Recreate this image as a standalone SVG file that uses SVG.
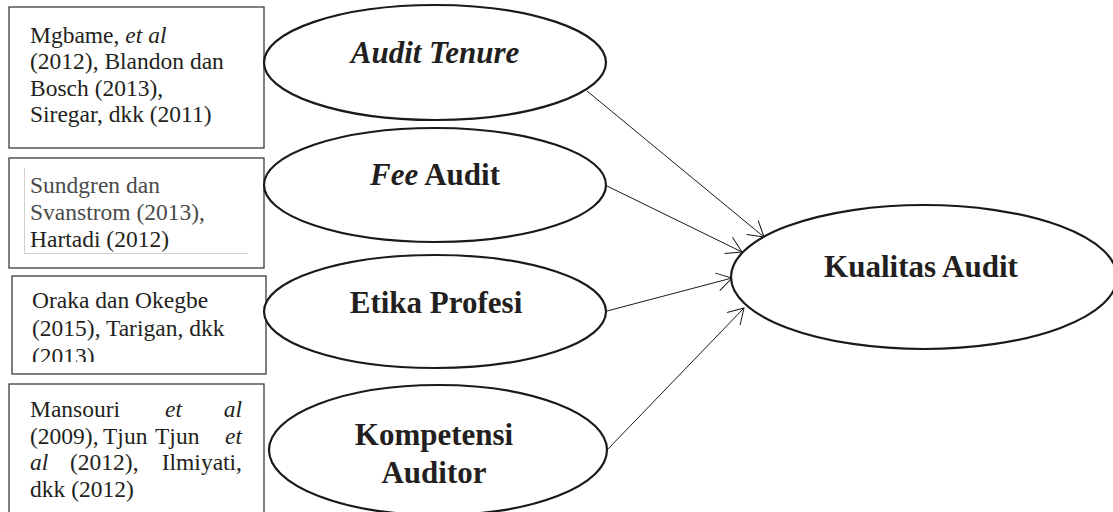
<svg xmlns="http://www.w3.org/2000/svg" width="1113" height="512" viewBox="0 0 1113 512">
<style>
.box{fill:#fff;stroke:#2b2b2b;stroke-width:1.2}
.ell{fill:#fff;stroke:#1a1a1a;stroke-width:2.2}
.ref{font-family:"Liberation Serif","Times New Roman",serif;font-size:23.5px;fill:#231f20}
.lbl{font-family:"Liberation Serif","Times New Roman",serif;font-size:31px;font-weight:bold;fill:#231f20;text-anchor:middle}
.it{font-style:italic}
.con{stroke:#1a1a1a;stroke-width:1;fill:none;marker-end:url(#arr)}
</style>
<defs>
<marker id="arr" markerUnits="userSpaceOnUse" markerWidth="20" markerHeight="20" viewBox="-17 -10 19 20" refX="0" refY="0" orient="auto">
<path d="M-15,-9 L0,0 L-15,9" fill="none" stroke="#1a1a1a" stroke-width="1"/>
</marker>
<clipPath id="clip3"><rect x="12" y="276" width="254" height="86"/></clipPath>
</defs>
<rect width="1113" height="512" fill="#fff"/>

<g id="ref1">
<rect class="box" x="9" y="7" width="255" height="141"/>
<text class="ref"><tspan x="30" y="43">Mgbame, <tspan class="it">et al</tspan></tspan><tspan x="30" y="69">(2012), Blandon dan</tspan><tspan x="30" y="95.5">Bosch (2013),</tspan><tspan x="30" y="121.5">Siregar, dkk (2011)</tspan></text>
</g>

<g id="ref2">
<rect class="box" x="9" y="158" width="255" height="110"/>
<path d="M24.5,168 V253.5 H248" fill="none" stroke="#d0d0d0" stroke-width="1"/>
<text class="ref"><tspan x="30" y="193" fill="#4a4a4a">Sundgren dan</tspan><tspan x="30" y="220" fill="#4a4a4a">Svanstrom (2013),</tspan><tspan x="30" y="247">Hartadi (2012)</tspan></text>
</g>

<g id="ref3">
<rect class="box" x="12" y="276" width="254" height="98"/>
<text class="ref" clip-path="url(#clip3)"><tspan x="32" y="308">Oraka dan Okegbe</tspan><tspan x="32" y="336">(2015), Tarigan, dkk</tspan><tspan x="32" y="364">(2013)</tspan></text>
</g>

<g id="ref4">
<rect class="box" x="9" y="384" width="255" height="140"/>
<text class="ref" x="30" y="417">Mansouri</text>
<text class="ref it" x="165" y="417">et</text>
<text class="ref it" x="242" y="417" text-anchor="end">al</text>
<text class="ref" x="30" y="443.5">(2009),</text>
<text class="ref" x="103" y="443.5">Tjun</text>
<text class="ref" x="155" y="443.5">Tjun</text>
<text class="ref it" x="242" y="443.5" text-anchor="end">et</text>
<text class="ref it" x="30" y="470">al</text>
<text class="ref" x="70" y="470">(2012),</text>
<text class="ref" x="242" y="470" text-anchor="end">Ilmiyati,</text>
<text class="ref" x="30" y="497">dkk (2012)</text>
</g>

<g id="connectors">
<line class="con" x1="587" y1="91" x2="764" y2="237"/>
<line class="con" x1="607" y1="186" x2="742" y2="252"/>
<line class="con" x1="607" y1="311" x2="732" y2="278"/>
<line class="con" x1="607" y1="450" x2="744" y2="308"/>
</g>

<g id="audit-tenure">
<ellipse class="ell" cx="435" cy="62.5" rx="171" ry="57.5"/>
<text class="lbl it" x="435" y="63">Audit Tenure</text>
</g>

<g id="fee-audit">
<ellipse class="ell" cx="435" cy="185" rx="171" ry="57"/>
<text class="lbl" x="435" y="185"><tspan class="it">Fee</tspan> Audit</text>
</g>

<g id="etika-profesi">
<ellipse class="ell" cx="435" cy="311.5" rx="171" ry="56.5"/>
<text class="lbl" x="436" y="313">Etika Profesi</text>
</g>

<g id="kompetensi-auditor">
<ellipse class="ell" cx="438" cy="450" rx="169" ry="65"/>
<text class="lbl" x="434" y="445">Kompetensi</text>
<text class="lbl" x="434" y="483">Auditor</text>
</g>

<g id="kualitas-audit">
<ellipse class="ell" cx="924" cy="277" rx="193" ry="72"/>
<text class="lbl" x="921" y="277">Kualitas Audit</text>
</g>
</svg>
